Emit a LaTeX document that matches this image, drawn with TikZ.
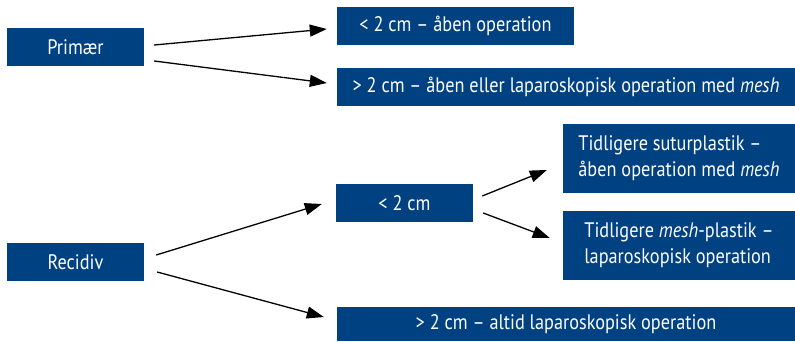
\documentclass[tikz,border=0pt]{standalone}
\usepackage{fontspec}
\setmainfont{PT Sans}[FakeStretch=0.87]
\usetikzlibrary{arrows.meta}
\definecolor{boxblue}{RGB}{0,65,130}
\begin{document}
\begin{tikzpicture}[x=1pt,y=-1pt,
  box/.style={fill=boxblue,text=white,inner sep=0pt,minimum height=38pt,
    font=\fontsize{21}{26}\selectfont},
  arr/.style={-{Triangle[length=17pt,width=12pt]},line width=1.3pt}]
\useasboundingbox (0,0) rectangle (795,341);
\node[box,minimum width=137pt] (prim) at (75.5,47) {Primær};
\node[box,minimum width=237pt] (a1) at (455.5,26) {< 2 cm – åben operation};
\node[box,minimum width=458pt] (a2) at (566,87) {> 2 cm – åben eller laparoskopisk operation med \textit{mesh}};
\node[box,minimum width=137pt] (rec) at (75.5,262) {Recidiv};
\node[box,minimum width=137pt] (b) at (404.5,203) {< 2 cm};
\node[box,minimum width=232pt,minimum height=69pt,align=left] (c1) at (679,158.5) {Tidligere suturplastik –\\åben operation med \textit{mesh}};
\node[box,minimum width=232pt,minimum height=69pt,align=left] (c2) at (679,245.5) {Tidligere \textit{mesh}-plastik –\\laparoskopisk operation};
\node[box,minimum width=458pt,minimum height=34pt] (d) at (566,324) {> 2 cm – altid laparoskopisk operation};
\draw[arr] ([xshift=10pt,yshift=2pt]prim.east) -- ([xshift=-10pt,yshift=-3pt]a1.west);
\draw[arr] ([xshift=10pt,yshift=-14pt]prim.east) -- ([xshift=-10pt,yshift=4pt]a2.west);
\draw[arr] ([xshift=12pt,yshift=7pt]rec.east) -- ([xshift=-14pt,yshift=-1pt]b.west);
\draw[arr] ([xshift=13pt,yshift=-10pt]rec.east) -- ([xshift=-13pt,yshift=7pt]d.west);
\draw[arr] ([xshift=9pt,yshift=7pt]b.east) -- ([xshift=-16pt,yshift=-11.5pt]c1.west);
\draw[arr] ([xshift=10pt,yshift=-10pt]b.east) -- ([xshift=-13pt,yshift=7.5pt]c2.west);
\end{tikzpicture}
\end{document}
